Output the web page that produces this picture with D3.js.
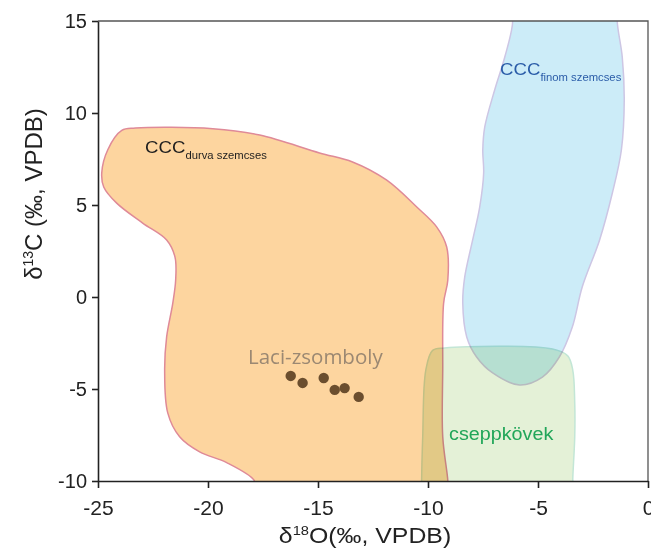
<!DOCTYPE html>
<html>
<head>
<meta charset="utf-8">
<script src="https://cdn.jsdelivr.net/npm/d3@7"></script>
<style>
  body { margin: 0; background: #fff; }
  svg text { font-family: "Liberation Sans", Arial, sans-serif; }
</style>
</head>
<body>
<div id="chart"></div>
<script>
// field outlines, [d18O, d13C]
var durvaField = [
  [-17.9, -10.4], [-17.9, -9.97], [-19.15, -9.0], [-20.38, -8.42], [-21.29, -7.6], [-21.83, -6.3],
  [-21.97, -3.97], [-21.88, -2.17], [-21.6, -0.33], [-21.47, 0.92], [-21.5, 2.17],
  [-21.88, 3.1], [-22.97, 4.02], [-24.15, 5.1], [-24.74, 5.98], [-24.83, 6.74],
  [-24.56, 7.99], [-23.92, 9.05], [-23.3, 9.18], [-19.78, 9.15], [-17.65, 8.8],
  [-14.93, 7.83], [-13.43, 7.34], [-11.89, 6.36], [-10.51, 4.89], [-9.6, 3.8],
  [-9.15, 2.72], [-9.1, 0.92], [-9.29, -0.33], [-9.33, -3.97], [-9.33, -7.6],
  [-9.1, -9.97], [-9.1, -10.4]
];
var finomField = [
  [-6.3, 16.0], [-6.15, 15.0], [-6.51, 13.04], [-6.97, 11.25], [-7.42, 9.24], [-7.51, 7.99],
  [-7.47, 6.74], [-7.65, 4.89], [-7.97, 3.1], [-8.33, 1.09], [-8.42, -0.33],
  [-8.24, -2.17], [-7.79, -3.26], [-7.06, -4.13], [-5.84, -4.78], [-4.8, -4.35],
  [-4.03, -3.26], [-3.44, -1.63], [-2.99, 0.54], [-2.2, 3.1], [-1.62, 5.65],
  [-1.21, 7.99], [-1.08, 10.71], [-1.17, 13.04], [-1.4, 15.0], [-1.35, 16.0]
];
var cseppkoField = [
  [-10.29, -10.4], [-10.29, -10.0], [-10.24, -7.6], [-10.1, -3.97], [-9.79, -2.9], [-9.24, -2.77],
  [-4.34, -2.83], [-3.65, -3.2], [-3.42, -3.97], [-3.33, -5.76], [-3.33, -7.6],
  [-3.42, -9.9], [-3.42, -10.4]
];
// Laci-zsomboly samples
var laciO = [-16.24, -15.7, -14.74, -14.24, -13.79, -13.15];
var laciC = [-4.29, -4.67, -4.4, -5.05, -4.95, -5.43];

var xTicks = [-25, -20, -15, -10, -5, 0];
var yTicks = [-10, -5, 0, 5, 10, 15];

var width = 651, height = 555;
var stretch = 1.13; // labels in the original are set a little wide
var x = d3.scaleLinear().domain([-25, 0]).range([98, 648]);
var y = d3.scaleLinear().domain([-10, 15]).range([481, 21]);

var svg = d3.select('#chart').append('svg')
  .attr('width', width).attr('height', height);

svg.append('clipPath').attr('id', 'plotClip')
  .append('rect')
  .attr('x', x(-25)).attr('y', y(15))
  .attr('width', x(0) - x(-25)).attr('height', y(-10) - y(15));

var line = d3.line()
  .x(function(d){ return x(d[0]); })
  .y(function(d){ return y(d[1]); })
  .curve(d3.curveCatmullRomClosed.alpha(0.5));

var fields = svg.append('g').attr('clip-path', 'url(#plotClip)')
  .style('isolation', 'isolate');

fields.append('path').datum(cseppkoField)
  .attr('d', line)
  .attr('fill', '#e4f1d7').attr('stroke', '#c3e6d6').attr('stroke-width', 1.5)
  .style('mix-blend-mode', 'multiply');

fields.append('path').datum(durvaField)
  .attr('d', line)
  .attr('fill', '#fdd59f').attr('stroke', '#df8a98').attr('stroke-width', 1.5)
  .style('mix-blend-mode', 'multiply');

fields.append('path').datum(finomField)
  .attr('d', line)
  .attr('fill', '#ccecf8').attr('stroke', '#cdc6e4').attr('stroke-width', 1.5)
  .style('mix-blend-mode', 'multiply');

// sample points
svg.append('g').selectAll('circle')
  .data(laciO)
  .enter().append('circle')
  .attr('cx', function(d){ return x(d); })
  .attr('cy', function(d, i){ return y(laciC[i]); })
  .attr('r', 5.2)
  .attr('fill', '#6b4e2e');

// frame
svg.append('path')
  .attr('d', 'M' + x(-25) + ',' + y(15) + 'H' + x(0) + 'V' + y(-10))
  .attr('fill', 'none').attr('stroke', '#555').attr('stroke-width', 1.3);

var fmt = function(d){ return String(d); };
var xAxis = svg.append('g')
  .attr('transform', 'translate(0,' + y(-10) + ')')
  .call(d3.axisBottom(x).tickValues(xTicks).tickFormat(fmt).tickSize(7).tickSizeOuter(0).tickPadding(12));
var yAxis = svg.append('g')
  .attr('transform', 'translate(' + x(-25) + ',0)')
  .call(d3.axisLeft(y).tickValues(yTicks).tickFormat(fmt).tickSize(6).tickSizeOuter(0).tickPadding(5));

[xAxis, yAxis].forEach(function(a){
  a.selectAll('path, line').attr('stroke', '#222').attr('stroke-width', 1.6);
  a.selectAll('text').attr('fill', '#222');
});
xAxis.selectAll('text').style('font-size', '21px');
yAxis.selectAll('text').style('font-size', '20px');

// axis titles
var xt = svg.append('text')
  .attr('transform', 'translate(365,543) scale(' + stretch + ',1)')
  .attr('text-anchor', 'middle')
  .style('font-size', '22px').attr('fill', '#222');
xt.append('tspan').text('δ');
xt.append('tspan').attr('dy', -8).style('font-size', '13px').text('18');
xt.append('tspan').attr('dy', 8).text('O(‰, VPDB)');

var yt = svg.append('text')
  .attr('transform', 'translate(42,194) rotate(-90)')
  .attr('text-anchor', 'middle')
  .style('font-size', '24px').attr('fill', '#222');
yt.append('tspan').text('δ');
yt.append('tspan').attr('dy', -9).style('font-size', '14px').text('13');
yt.append('tspan').attr('dy', 9).text('C (‰, VPDB)');

// field labels
function subLabel(px, py, main, sub, color){
  var t = svg.append('text')
    .attr('transform', 'translate(' + px + ',' + py + ') scale(' + stretch + ',1)')
    .attr('fill', color)
    .style('font-size', '16.5px');
  t.append('tspan').text(main);
  t.append('tspan').attr('dy', 6).style('font-size', '10px').text(sub);
}
subLabel(145, 153, 'CCC', 'durva szemcses', '#1e1e1e');
subLabel(500, 75, 'CCC', 'finom szemcses', '#2a5ca8');

svg.append('text')
  .attr('x', 248).attr('y', 364)
  .style('font-family', '"Open Sans", sans-serif')
  .style('font-size', '20.5px')
  .attr('fill', '#9b8872')
  .text('Laci-zsomboly');

svg.append('text')
  .attr('transform', 'translate(449,440) scale(' + stretch + ',1)')
  .style('font-size', '17.5px')
  .attr('fill', '#21a659')
  .text('cseppkövek');
</script>
</body>
</html>
